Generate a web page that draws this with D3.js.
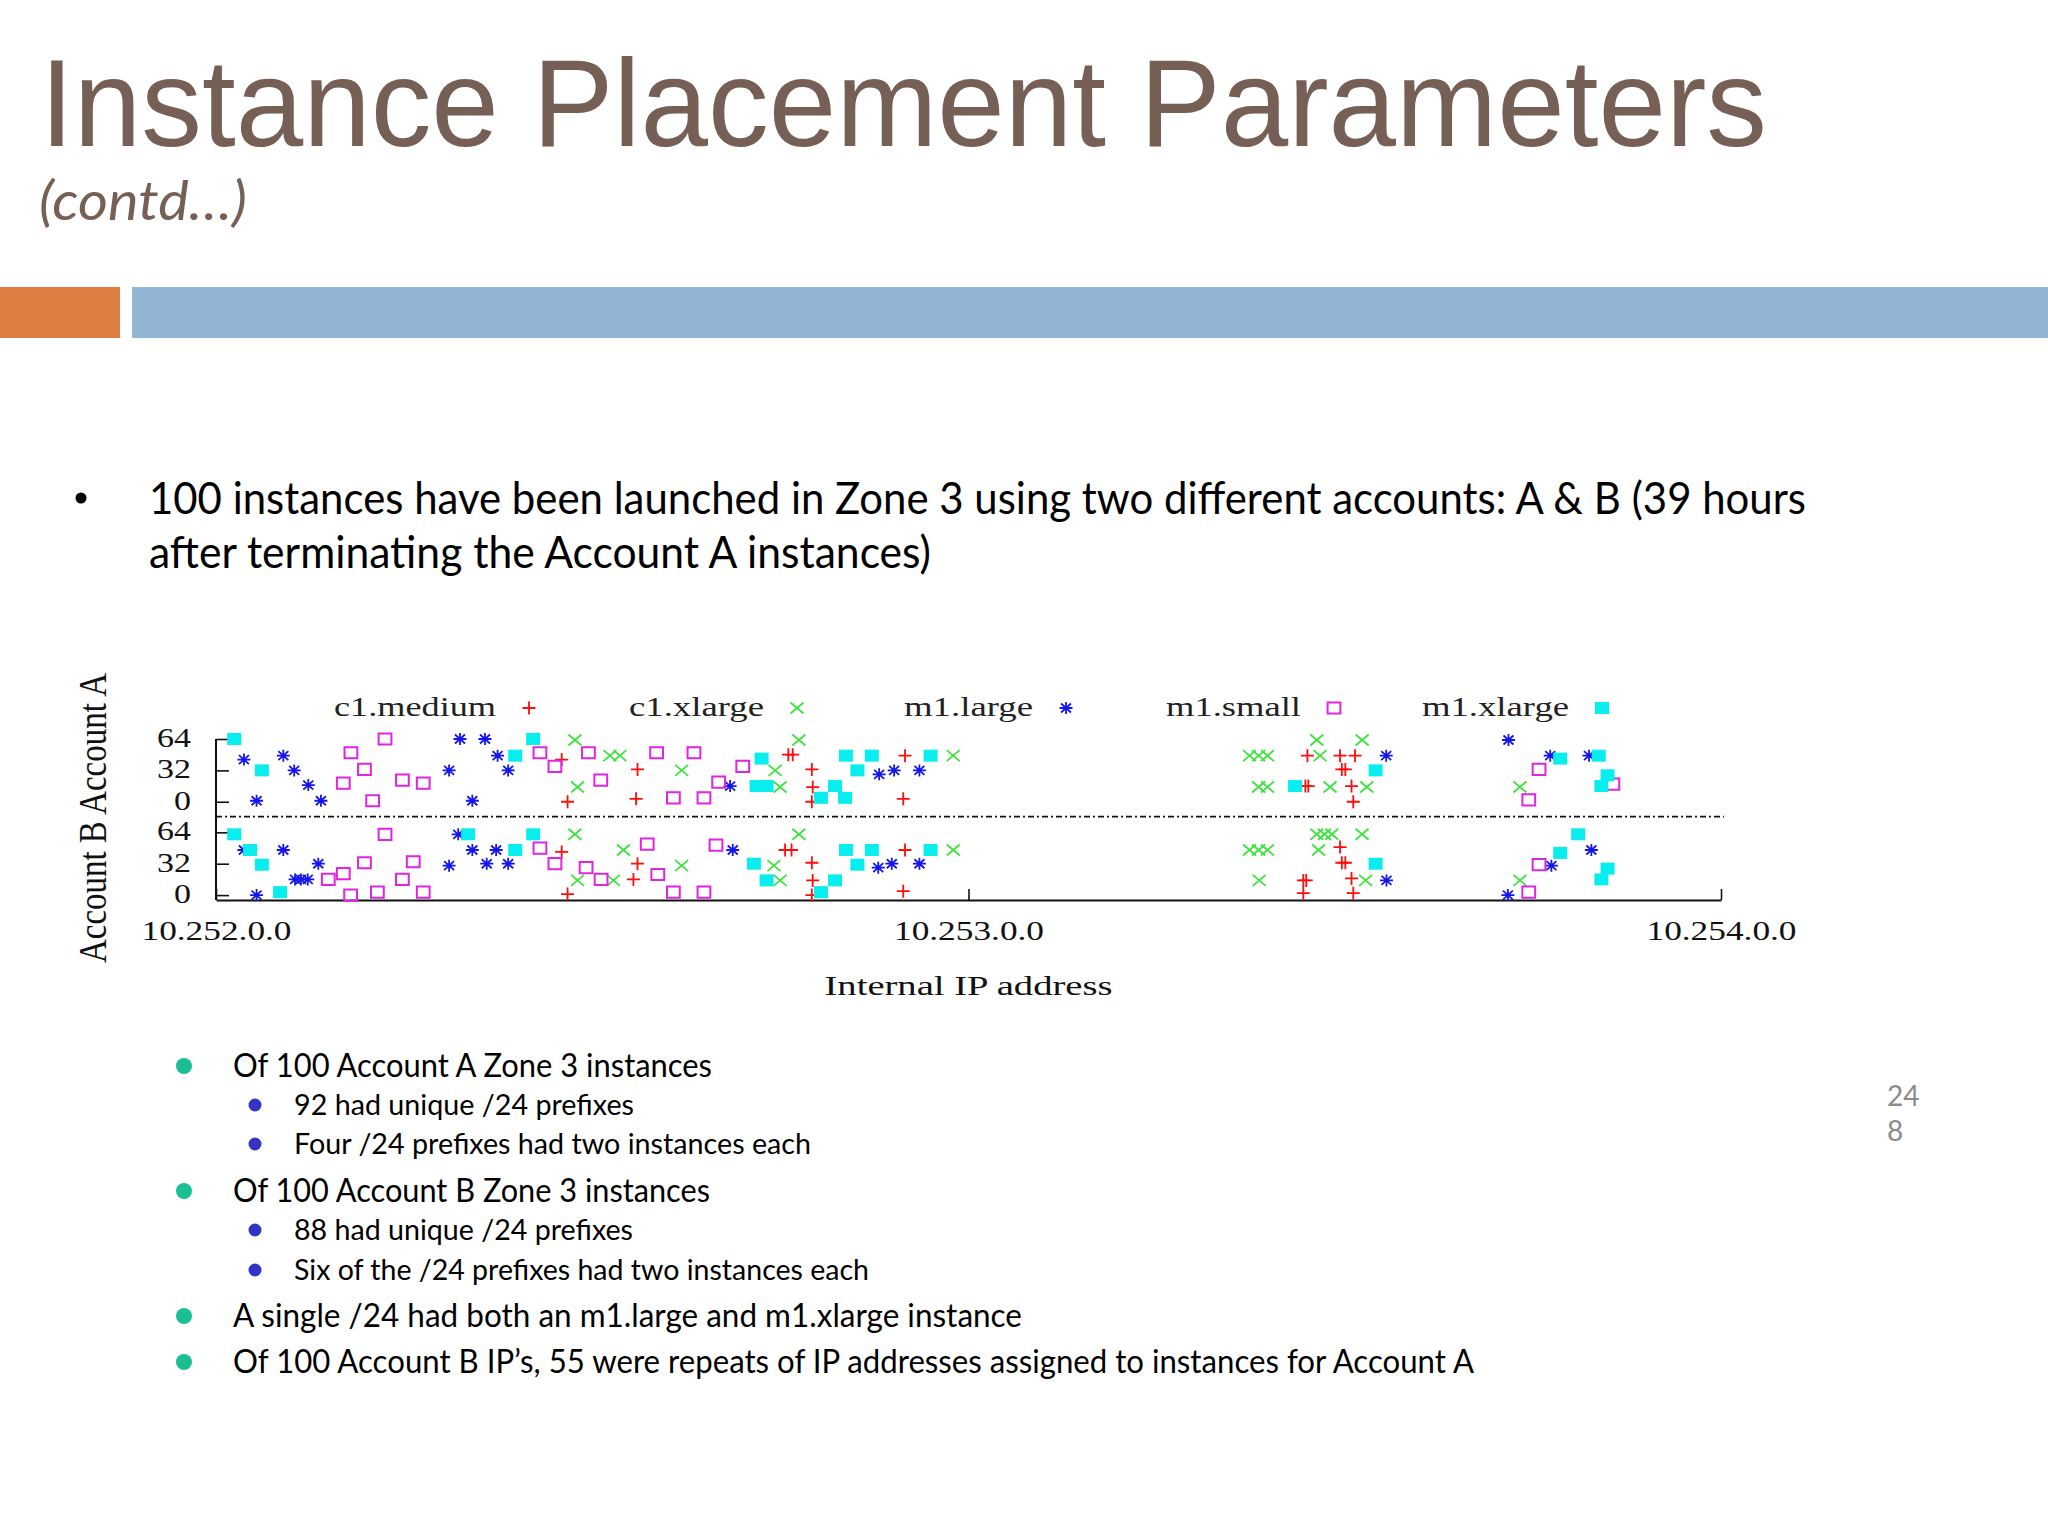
<!DOCTYPE html>
<html>
<head>
<meta charset="utf-8">
<script src="https://cdn.jsdelivr.net/npm/d3@7"></script>
<style>
  html, body { margin: 0; padding: 0; background: #ffffff; }
  svg { display: block; }
</style>
</head>
<body>
<svg id="slide"></svg>
<script>
// instance types, in legend order
const typeNames = ["c1.medium", "c1.xlarge", "m1.large", "m1.small", "m1.xlarge"];
const xTickValues = [0, 256, 512];            // /24 index counted from 10.252.0.0
const xTickLabels = ["10.252.0.0", "10.253.0.0", "10.254.0.0"];
const yTickValues = [0, 32, 64];

// [ /24 index , slot 0..64 ]  -- Account A
const c1MediumA = [[117.6,43],[119.6,0],[143.4,33],[142.9,3],[194.7,48],[196.2,48],[202.7,33],[203.0,15],[202.7,0],
  [234.4,47],[233.8,3],[371.3,47],[382.4,47],[387.5,47],[383.0,33],[384.2,33],[370.6,16],[371.6,16],[386.3,16],[386.9,0]];
const c1XlargeA = [[122.1,63],[123.0,15],[134.0,47],[137.4,47],[158.4,32],[190.2,32],[191.9,15],[198.3,63],[250.8,47],
  [351.6,47],[354.7,47],[357.7,47],[374.5,63],[375.6,47],[389.9,63],[354.7,15],[357.7,15],[379.0,15],[391.5,15],[443.6,15]];
const m1LargeA = [[9.5,43],[13.8,1],[22.9,47],[26.6,32],[31.4,17],[35.7,1],[79.3,32],[83.0,64],[87.2,1],[91.5,64],
  [95.8,47],[99.4,32],[174.9,16],[225.6,28],[230.7,32],[239.3,32],[398.1,47],[439.7,63],[453.9,47],[467.1,47]];
const m1SmallA = [[43.3,19],[45.9,50],[50.5,33],[53.3,1],[57.5,64],[63.4,22],[70.5,19],[110.2,50],[115.3,36],[126.7,50],
  [130.9,22],[149.9,50],[155.6,4],[162.6,50],[166.0,4],[171.0,20],[179.2,36],[450.1,33],[475.2,18],[446.6,2]];
const m1XlargeA = [[6.2,64],[15.6,32],[101.8,47],[107.9,64],[183.9,16],[187.3,16],[185.6,44],[205.8,4],[210.6,16],[214.0,4],
  [214.3,47],[218.2,32],[223.1,47],[243.1,47],[367.1,16],[394.5,32],[457.3,44],[470.4,47],[473.4,27],[471.3,16]];

// Account B
const c1MediumB = [[117.6,44],[119.6,1],[143.4,32],[142.0,16],[193.6,46],[195.8,46],[202.7,33],[203.0,15],[202.7,0],
  [234.4,46],[233.8,4],[382.4,49],[383.0,33],[384.2,33],[369.9,15],[370.9,15],[386.3,17],[369.9,2],[386.9,2]];
const c1XlargeB = [[122.1,62],[123.0,15],[135.2,15],[138.6,46],[158.4,30],[189.8,30],[191.9,15],[198.3,62],[250.8,46],
  [374.5,62],[377.1,62],[379.6,62],[389.9,62],[351.6,46],[354.7,46],[357.7,46],[375.1,46],[354.9,15],[391.1,15],[443.6,15]];
const m1LargeB = [[9.5,46],[13.8,0],[22.9,46],[34.8,32],[26.9,16],[28.9,16],[31.2,16],[79.3,30],[82.4,62],[87.2,46],
  [92.1,32],[95.3,46],[99.4,32],[175.8,46],[225.3,28],[229.9,32],[239.3,32],[398.2,15],[467.9,46],[454.3,30],[439.5,0]];
const m1SmallB = [[38.2,16],[43.3,22],[45.8,0],[50.5,33],[54.9,3],[57.5,62],[63.4,16],[67.1,34],[70.5,3],[110.2,48],
  [115.3,32],[125.9,28],[131.0,16],[146.7,52],[150.3,21],[155.6,3],[166.0,3],[170.1,51],[450.1,31],[446.6,3]];
const m1XlargeB = [[6.2,62],[11.6,46],[15.6,31],[21.8,3],[85.8,62],[101.8,46],[107.9,62],[183.0,32],[187.3,15],[205.8,3],
  [210.6,15],[214.3,46],[218.2,31],[223.1,46],[243.1,46],[394.5,32],[463.4,62],[457.3,43],[473.4,27],[471.3,16]];

const seriesA = [c1MediumA, c1XlargeA, m1LargeA, m1SmallA, m1XlargeA];
const seriesB = [c1MediumB, c1XlargeB, m1LargeB, m1SmallB, m1XlargeB];

const W = 2048, H = 1536;
const svg = d3.select("#slide").attr("width", W).attr("height", H).attr("viewBox", `0 0 ${W} ${H}`);
svg.append("rect").attr("width", W).attr("height", H).attr("fill", "#ffffff");

const bodyFont = "Lato, 'Open Sans', sans-serif";
const serif = "'Liberation Serif', 'DejaVu Serif', serif";

// ---- header ----
svg.append("text").attr("x", 40).attr("y", 146)
  .attr("font-family", "'Liberation Sans', Arial, sans-serif").attr("font-size", 124)
  .attr("fill", "#765f54").attr("textLength", 1727).attr("lengthAdjust", "spacingAndGlyphs")
  .text("Instance Placement Parameters");
svg.append("text").attr("x", 39).attr("y", 220)
  .attr("font-family", bodyFont).attr("font-style", "italic").attr("font-size", 54)
  .attr("fill", "#765f54").attr("textLength", 208).attr("lengthAdjust", "spacingAndGlyphs")
  .text("(contd\u2026)");
svg.append("rect").attr("x", 0).attr("y", 287).attr("width", 120).attr("height", 51).attr("fill", "#df7e42");
svg.append("rect").attr("x", 132).attr("y", 287).attr("width", W - 132).attr("height", 51).attr("fill", "#93b5d4");

// ---- intro bullet ----
svg.append("circle").attr("cx", 81).attr("cy", 498).attr("r", 5.5).attr("fill", "#000");
const intro = [
  { t: "100 instances have been launched in Zone 3 using two different accounts: A & B (39 hours", y: 514, w: 1657 },
  { t: "after terminating the Account A instances)", y: 568, w: 782 }
];
svg.selectAll("text.intro").data(intro).join("text").attr("class", "intro")
  .attr("x", 149).attr("y", d => d.y).attr("font-family", bodyFont).attr("font-size", 44)
  .attr("fill", "#000").attr("textLength", d => d.w).attr("lengthAdjust", "spacingAndGlyphs")
  .text(d => d.t);

// ---- chart ----
const x = d3.scaleLinear().domain([0, 512]).range([216, 1721]);
const y = d3.scaleLinear().domain([-5, 159.2]).range([900, 739]);
const offA = 95.2;   // Account A is drawn above Account B on the same axis
const sepValue = 80;

const chart = svg.append("g");

const xAxis = d3.axisBottom(x).tickValues(xTickValues).tickFormat((d, i) => xTickLabels[i])
  .tickSize(-11).tickSizeOuter(0);
const gx = chart.append("g").attr("transform", `translate(0,${y(-5)})`).call(xAxis);
gx.select(".domain").attr("stroke", "#111").attr("stroke-width", 2);
gx.selectAll(".tick line").attr("stroke", "#111").attr("stroke-width", 1.6);
gx.selectAll(".tick text").attr("y", 40).attr("dy", null)
  .attr("font-family", serif).attr("font-size", 27).attr("fill", "#111")
  .attr("textLength", 150).attr("lengthAdjust", "spacingAndGlyphs");

const yTicksAll = yTickValues.concat(yTickValues.map(v => v + offA));
const yAxis = d3.axisLeft(y).tickValues(yTicksAll)
  .tickFormat(d => d >= offA ? Math.round(d - offA) : d)
  .tickSize(-13).tickSizeOuter(0).tickPadding(25);
const gy = chart.append("g").attr("transform", `translate(${x(0)},0)`).call(yAxis);
gy.select(".domain").attr("d", `M0,${y(64 + offA)}V${y(-5)}`).attr("stroke", "#111").attr("stroke-width", 2);
gy.selectAll(".tick line").attr("stroke", "#111").attr("stroke-width", 1.6);
gy.selectAll(".tick text").attr("dy", "0.28em")
  .attr("font-family", serif).attr("font-size", 27).attr("fill", "#111")
  .attr("textLength", function () { return this.textContent.length * 17; })
  .attr("lengthAdjust", "spacingAndGlyphs");

chart.append("line").attr("x1", x(0)).attr("x2", x(512) + 3)
  .attr("y1", y(sepValue)).attr("y2", y(sepValue))
  .attr("stroke", "#111").attr("stroke-width", 1.8).attr("stroke-dasharray", "6,3,2,3");

// axis titles
chart.append("text").attr("x", x(256)).attr("y", 995).attr("text-anchor", "middle")
  .attr("font-family", serif).attr("font-size", 28).attr("fill", "#111")
  .attr("textLength", 288).attr("lengthAdjust", "spacingAndGlyphs").text("Internal IP address");
chart.append("text").attr("transform", "translate(106,818) rotate(-90) scale(1,1.45)")
  .attr("text-anchor", "middle").attr("font-family", serif).attr("font-size", 27).attr("fill", "#111")
  .attr("textLength", 290).attr("lengthAdjust", "spacingAndGlyphs").text("Account  B  Account  A");

// markers
const colors = ["#ff0c0c", "#3ee23e", "#1414ee", "#e024e0", "#08eeee"];
const shapes = [
  () => "M-6.5,0H6.5M0,-6.5V6.5",
  () => "M-6.5,-5.5L6.5,5.5M-6.5,5.5L6.5,-5.5",
  () => "M-6.5,0H6.5M0,-6V6M-5,-4.5L5,4.5M-5,4.5L5,-4.5",
  () => "M-6.4,-5.6H6.4V5.6H-6.4Z",
  () => "M-7,-6H7V6H-7Z"
];
function styleMarker(sel, i) {
  if (i === 4) sel.attr("fill", colors[i]).attr("stroke", "none");
  else sel.attr("fill", "none").attr("stroke", colors[i]).attr("stroke-width", i === 3 ? 2 : 1.8);
}

typeNames.forEach((name, i) => {
  const pts = seriesA[i].map(d => ({ ip: d[0], v: d[1] + offA }))
    .concat(seriesB[i].map(d => ({ ip: d[0], v: d[1] })));
  chart.append("g").attr("class", "series")
    .selectAll("path").data(pts).join("path")
    .attr("transform", d => `translate(${x(d.ip)},${y(d.v)})`)
    .attr("d", shapes[i])
    .call(styleMarker, i);
});

// legend
const legendSymX = [529, 797, 1066, 1334, 1602];
const legendTextW = [162, 135, 129, 135, 147];
const legend = chart.append("g");
typeNames.forEach((name, i) => {
  legend.append("text").attr("x", legendSymX[i] - 33).attr("y", 716).attr("text-anchor", "end")
    .attr("font-family", serif).attr("font-size", 28).attr("fill", "#222")
    .attr("textLength", legendTextW[i]).attr("lengthAdjust", "spacingAndGlyphs").text(name);
  legend.append("path").attr("transform", `translate(${legendSymX[i]},708)`).attr("d", shapes[i]).call(styleMarker, i);
});

// ---- findings ----
const findings = [
  { lvl: 1, t: "Of 100 Account A Zone 3 instances", y: 1077, w: 479 },
  { lvl: 2, t: "92 had unique /24 prefixes", y: 1115, w: 340 },
  { lvl: 2, t: "Four /24 prefixes had two instances each", y: 1154, w: 517 },
  { lvl: 1, t: "Of 100 Account B Zone 3 instances", y: 1202, w: 477 },
  { lvl: 2, t: "88 had unique /24 prefixes", y: 1240, w: 339 },
  { lvl: 2, t: "Six of the /24 prefixes had two instances each", y: 1280, w: 575 },
  { lvl: 1, t: "A single /24 had both an m1.large and m1.xlarge instance", y: 1327, w: 789 },
  { lvl: 1, t: "Of 100 Account B IP\u2019s, 55 were repeats of IP addresses assigned to instances for Account A", y: 1373, w: 1241 }
];
const fg = svg.append("g");
fg.selectAll("circle").data(findings).join("circle")
  .attr("cx", d => d.lvl === 1 ? 184 : 255)
  .attr("cy", d => d.y - (d.lvl === 1 ? 11 : 10))
  .attr("r", d => d.lvl === 1 ? 8 : 6.5)
  .attr("fill", d => d.lvl === 1 ? "#1bbf93" : "#3434c4");
fg.selectAll("text").data(findings).join("text")
  .attr("x", d => d.lvl === 1 ? 233 : 294).attr("y", d => d.y)
  .attr("font-family", bodyFont).attr("font-size", d => d.lvl === 1 ? 32 : 29)
  .attr("fill", "#000").attr("textLength", d => d.w).attr("lengthAdjust", "spacingAndGlyphs")
  .text(d => d.t);

// page number
["24", "8"].forEach((s, i) => {
  svg.append("text").attr("x", 1887).attr("y", 1106 + i * 35)
    .attr("font-family", bodyFont).attr("font-size", 28).attr("fill", "#8a8a8a").text(s);
});
</script>
</body>
</html>
